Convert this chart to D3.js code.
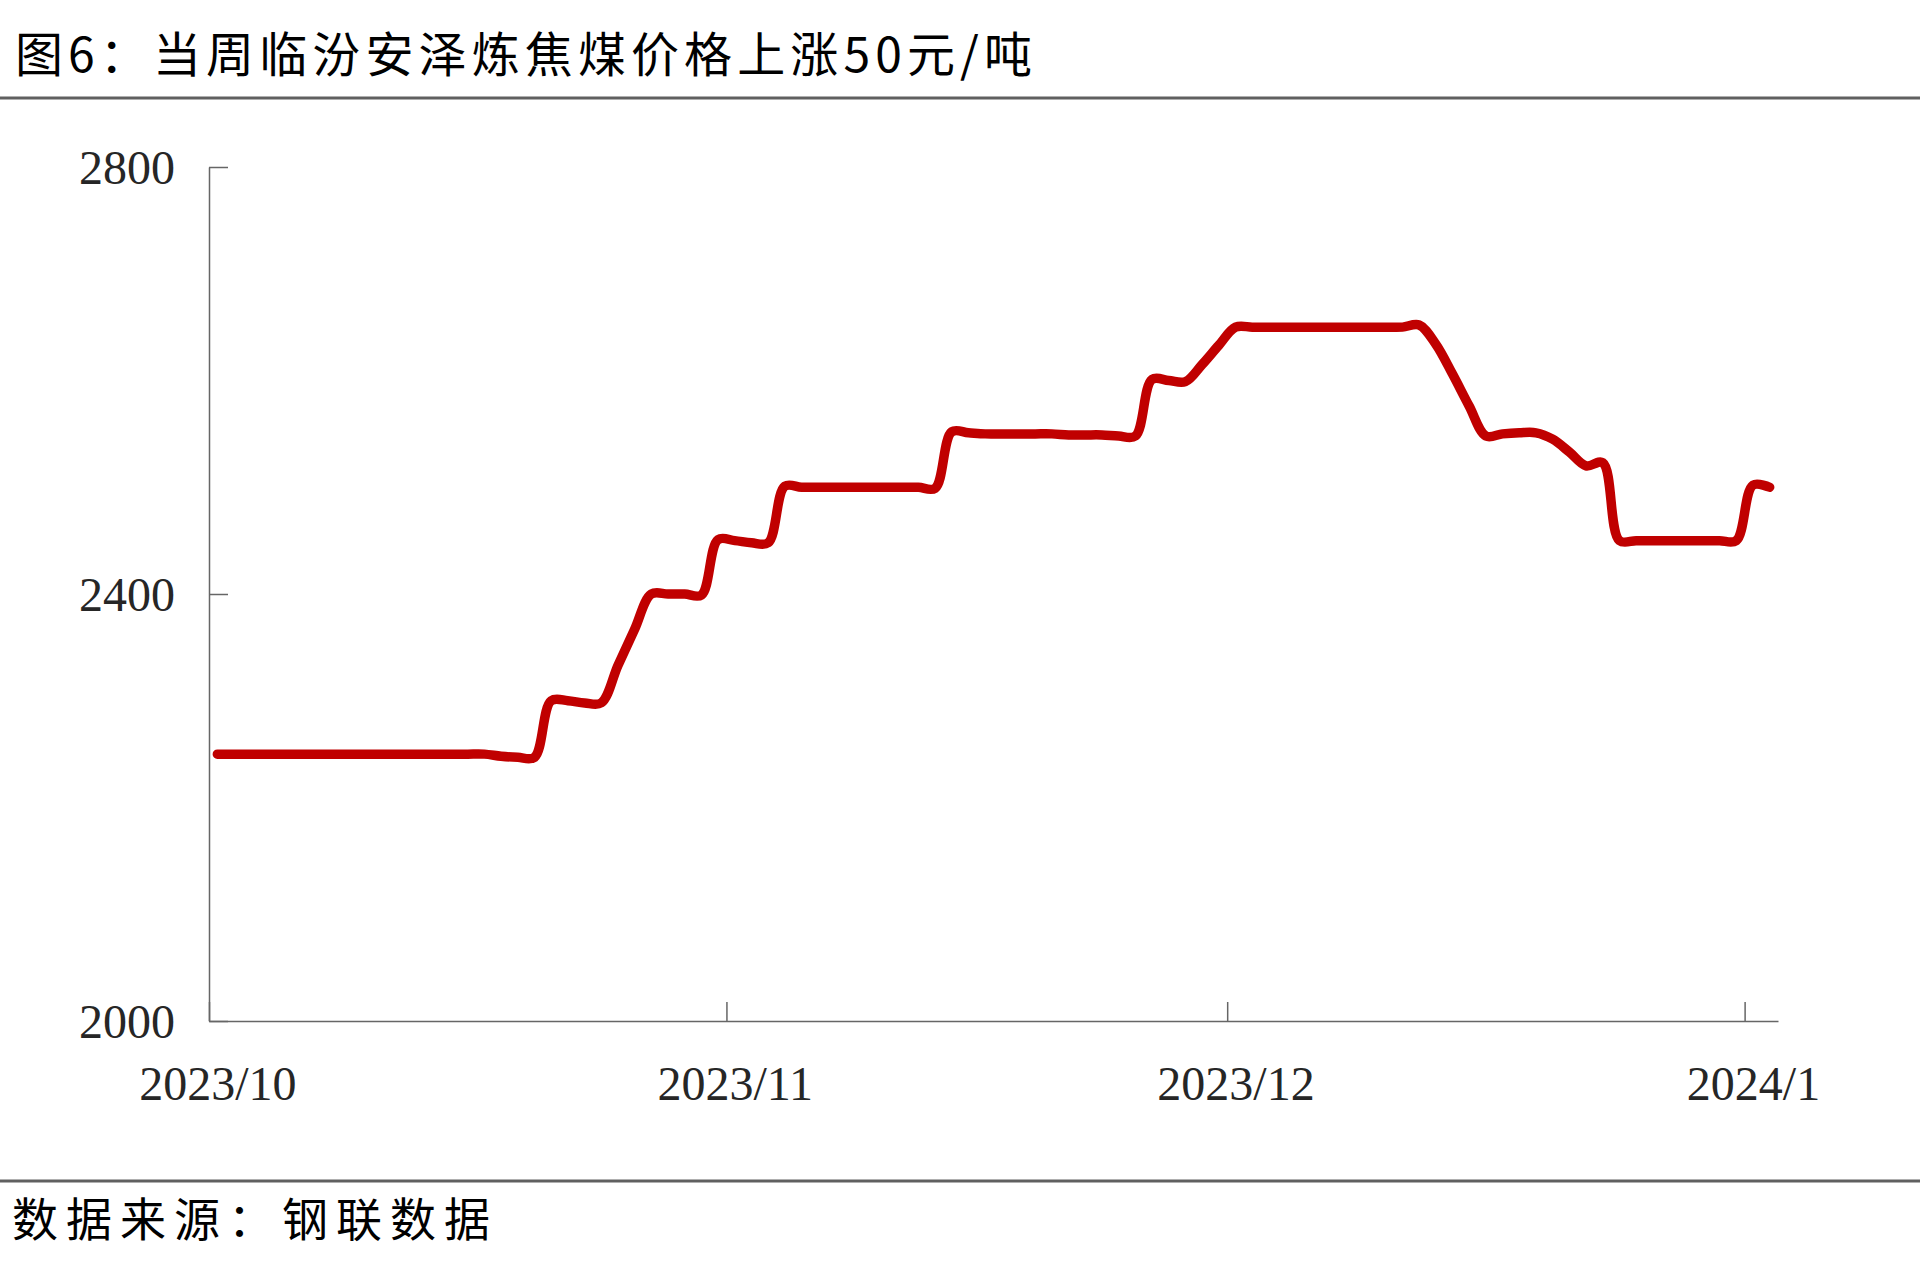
<!DOCTYPE html>
<html>
<head>
<meta charset="utf-8">
<script src="https://cdn.jsdelivr.net/npm/d3@7"></script>
<style>
  html, body { margin: 0; padding: 0; background: #fff; }
  svg { display: block; }
</style>
</head>
<body>
<svg id="chart" width="1920" height="1279"></svg>
<script>
// ---- data ----
const titleText = "图6：当周临汾安泽炼焦煤价格上涨50元/吨";
const sourceText = "数据来源：钢联数据";
const startDate = "2023-10-01";
const endDate = "2024-01-03";
// daily price (元/吨), one value per day from 2023-10-01
const prices = [
  2250, 2250, 2250, 2250, 2250, 2250, 2250, 2250, 2250, 2250,
  2250, 2250, 2250, 2250, 2250, 2250, 2250, 2248, 2247, 2247,
  2300, 2300, 2298, 2298, 2333, 2367, 2400, 2400, 2400, 2399,
  2451, 2450, 2448, 2448, 2501, 2500, 2500, 2500, 2500, 2500,
  2500, 2500, 2500, 2499, 2552, 2551, 2550, 2550, 2550, 2550,
  2550, 2549, 2549, 2549, 2548, 2548, 2601, 2600, 2599, 2615,
  2633, 2650, 2650, 2650, 2650, 2650, 2650, 2650, 2650, 2650,
  2650, 2650, 2652, 2634, 2606, 2576, 2548, 2550, 2551, 2551,
  2545, 2533, 2520, 2523, 2450, 2450, 2450, 2450, 2450, 2450,
  2450, 2450, 2502, 2500
];
const yTicks = [2000, 2400, 2800];
const xTickDates = ["2023-10-01", "2023-11-01", "2023-12-01", "2024-01-01"];
const xTickLabels = ["2023/10", "2023/11", "2023/12", "2024/1"];

// ---- layout ----
const svg = d3.select("#chart");
const W = 1920, H = 1279;
const plot = { left: 209, right: 1778, top: 167, bottom: 1021 };
const axisColor = "#666666";
const textColor = "#262626";
const serif = "'Liberation Serif', 'Times New Roman', serif";
const cjk = "'Noto Sans CJK SC', 'Noto Sans', sans-serif";

svg.append("rect").attr("width", W).attr("height", H).attr("fill", "#fff");

const parse = d3.utcParse("%Y-%m-%d");
const x = d3.scaleUtc().domain([parse(startDate), parse(endDate)]).range([plot.left, plot.right]);
const y = d3.scaleLinear().domain([2000, 2800]).range([plot.bottom, plot.top]);

const data = prices.map((v, i) => ({ date: d3.utcHour.offset(d3.utcDay.offset(parse(startDate), i), 12), value: v }));

// title
svg.append("text")
  .attr("x", 15).attr("y", 72)
  .attr("font-family", cjk).attr("font-size", 48)
  .attr("textLength", 1017).attr("lengthAdjust", "spacing")
  .attr("fill", "#000")
  .text(titleText);

// rules
svg.append("line").attr("x1", 0).attr("x2", W).attr("y1", 98).attr("y2", 98)
  .attr("stroke", "#606060").attr("stroke-width", 3);
svg.append("line").attr("x1", 0).attr("x2", W).attr("y1", 1181).attr("y2", 1181)
  .attr("stroke", "#606060").attr("stroke-width", 3);

// source
svg.append("text")
  .attr("x", 12).attr("y", 1236)
  .attr("font-family", cjk).attr("font-size", 46)
  .attr("textLength", 478).attr("lengthAdjust", "spacing")
  .attr("fill", "#000")
  .text(sourceText);

// y axis
const yAxis = d3.axisLeft(y).tickValues(yTicks).tickSizeInner(-19).tickSizeOuter(0).tickPadding(34)
  .tickFormat(d3.format("d"));
const gy = svg.append("g").attr("transform", `translate(${plot.left},0)`).call(yAxis);
gy.select(".domain").attr("stroke", axisColor).attr("stroke-width", 1.5);
gy.selectAll(".tick line").attr("stroke", axisColor).attr("stroke-width", 1.5);
gy.selectAll(".tick text").attr("font-family", serif).attr("font-size", 48)
  .attr("fill", textColor).attr("dy", "0.34em");

// x axis
const halfDay = x(d3.utcHour.offset(parse(startDate), 12)) - plot.left;
const xAxis = d3.axisBottom(x).tickValues(xTickDates.map(parse)).tickSizeInner(-19).tickSizeOuter(0).tickPadding(45)
  .tickFormat((d, i) => xTickLabels[i]);
const gx = svg.append("g").attr("transform", `translate(0,${plot.bottom})`).call(xAxis);
gx.select(".domain").attr("stroke", axisColor).attr("stroke-width", 1.5);
gx.selectAll(".tick line").attr("stroke", axisColor).attr("stroke-width", 1.5);
gx.selectAll(".tick text").attr("font-family", serif).attr("font-size", 48)
  .attr("fill", textColor).attr("x", halfDay);

// line
const line = d3.line()
  .x(d => x(d.date))
  .y(d => y(d.value))
  .curve(d3.curveCatmullRom.alpha(0.5));
svg.append("path").datum(data)
  .attr("d", line)
  .attr("fill", "none")
  .attr("stroke", "#C00000")
  .attr("stroke-width", 9.5)
  .attr("stroke-linecap", "round")
  .attr("stroke-linejoin", "round");
</script>
</body>
</html>
